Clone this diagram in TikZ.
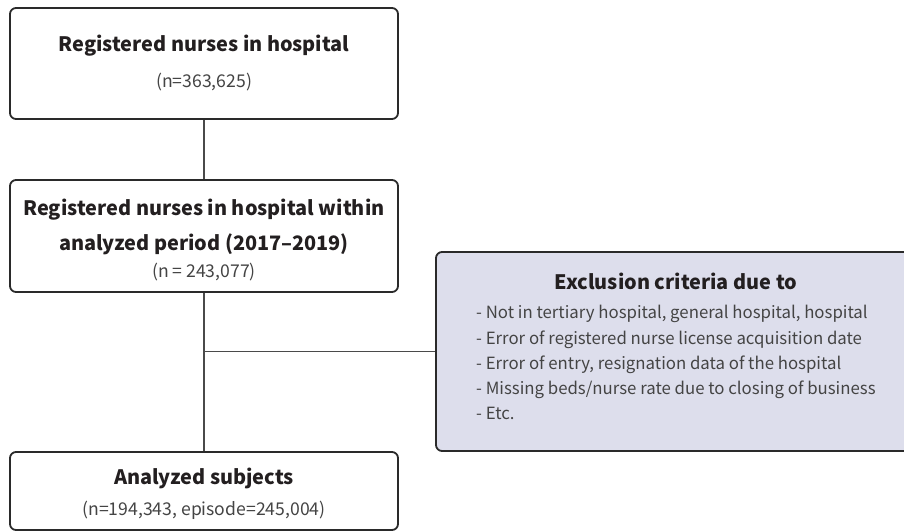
\documentclass[tikz,border=0pt]{standalone}
\usepackage{fontspec}
\setmainfont{Noto Sans CJK KR}
\definecolor{boxline}{HTML}{2A2A2A}
\definecolor{txtdark}{HTML}{231F20}
\definecolor{txtlight}{HTML}{444444}
\definecolor{exfill}{HTML}{DDDEEC}
\definecolor{connc}{HTML}{4A4A4A}
\begin{document}
\begin{tikzpicture}[x=1pt,y=-1pt,
  box/.style={draw=boxline, line width=1.8pt, rounded corners=6pt, fill=white,
    minimum width=388pt, inner sep=0pt},
  exbox/.style={box, fill=exfill},
  ttl/.style={font=\fontsize{19.9}{24}\selectfont\bfseries, text=txtdark, inner sep=0pt, anchor=base},
  sub/.style={font=\fontsize{17.6}{21}\selectfont, text=txtlight, inner sep=0pt, anchor=base},
  item/.style={font=\fontsize{16.8}{20}\selectfont, text=txtlight, inner sep=0pt, anchor=base west},
  conn/.style={draw=connc, line width=1.2pt}]
\useasboundingbox (0,0) rectangle (904,532);
\clip (0,0) rectangle (904,532);
% boxes
\node[box, minimum height=111pt] (b1) at (204,63.5) {};
\node[box, minimum height=112pt] (b2) at (204,236) {};
\node[box, minimum height=78pt] (b3) at (204,491) {};
\node[exbox, minimum width=480pt, minimum height=199pt] (ex) at (676,351.5) {};
% texts
\node[ttl] (b1t) at (204,52) {Registered nurses in hospital};
\node[sub] (b1n) at (204,88) {(n=363,625)};
\node[ttl] (b2t) at (204,215) {Registered nurses in hospital within};
\node[ttl] (b2u) at (204,250) {analyzed period (2017–2019)};
\node[sub] (b2n) at (204,277) {(n = 243,077)};
\node[ttl] (b3t) at (204,484) {Analyzed subjects};
\node[sub] (b3n) at (204,515) {(n=194,343, episode=245,004)};
\node[ttl] (ext) at (676,289) {Exclusion criteria due to};
\node[item] (e1) at (476,318.5) {- Not in tertiary hospital, general hospital, hospital};
\node[item] (e2) at (476,344) {- Error of registered nurse license acquisition date};
\node[item] (e3) at (476,369) {- Error of entry, resignation data of the hospital};
\node[item] (e4) at (476,394) {- Missing beds/nurse rate due to closing of business};
\node[item] (e5) at (476,419) {- Etc.};
% connectors
\coordinate (j) at (b2.south |- ex.west);
\draw[conn] (b1.south) -- (b2.north);
\draw[conn] (b2.south) -- (b3.north);
\draw[conn] (j) -- (ex.west);
\end{tikzpicture}
\end{document}
